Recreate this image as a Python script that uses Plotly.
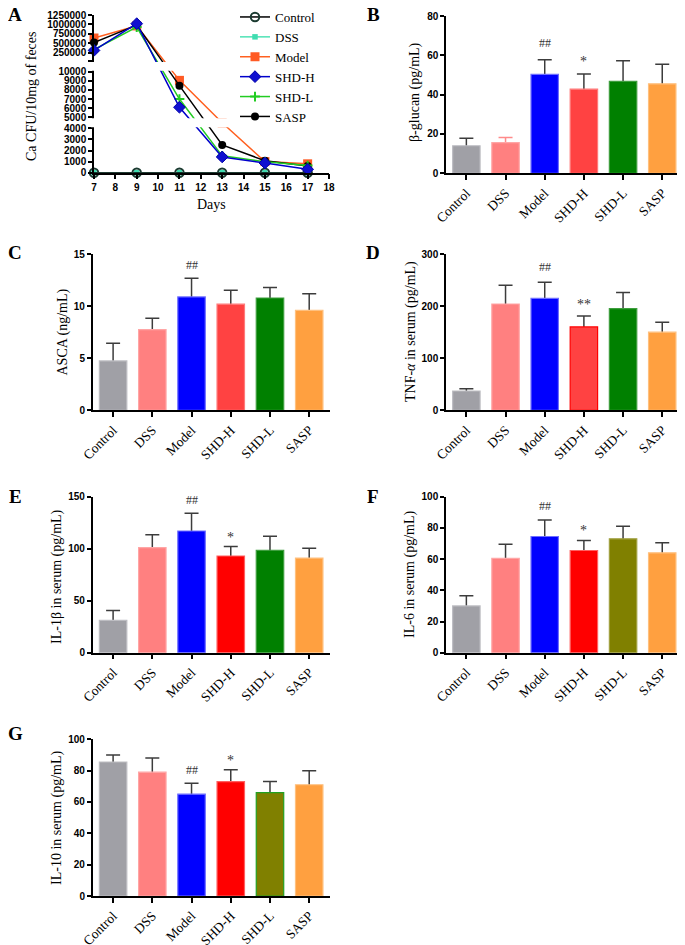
import numpy as np
import plotly.graph_objects as go

W, H = 685, 945          # browser window
OX, OY = 8, 8            # default page (body) margin in front of the figure
FW, FH = W - OX, H - OY  # figure size so that it fills the window exactly

# ---------------- Panel A data (Ca CFU / 10 mg feces) ----------------
days = [7, 9, 11, 13, 15, 17]
ctrl_cfu = [0, 0, 0, 0, 0, 0]
dss_cfu = [0, 0, 0, 0, 0, 0]
model_cfu = [640000, 960000, 9050, 4500, 1000, 800]
shdh_cfu = [310000, 1020000, 6100, 1420, 870, 310]
shdl_cfu = [330000, 930000, 7000, 1520, 980, 640]
sasp_cfu = [520000, 980000, 8470, 2500, 1080, 600]

# broken (segmented) axis: value breakpoints -> axis position units
brk_vals = [0, 4000, 5000, 10000, 30000, 1250000]
brk_pos = [0, 44.4, 55.4, 101.0, 111.7, 157.7]
seg_gaps = [(4000, 5000), (10000, 30000)]
a_ticks = [0, 1000, 2000, 3000, 4000, 5000, 6000, 7000, 8000, 9000, 10000,
           30000, 250000, 500000, 750000, 1000000, 1250000]
a_ticktext = [str(v) for v in a_ticks]
a_ticktext[a_ticks.index(30000)] = ""


def seg_scale(v):
    return np.interp(np.asarray(v, dtype=float), brk_vals, brk_pos)


# ---------------- Bar panel data ----------------
groups = ["Control", "DSS", "Model", "SHD-H", "SHD-L", "SASP"]

beta_glucan = [14, 15.6, 50.3, 42.8, 46.8, 45.5]
beta_err = [3.8, 2.6, 7.5, 7.7, 10.5, 10.0]
beta_marks = ["", "", "##", "*", "", ""]

asca = [4.75, 7.75, 10.9, 10.2, 10.8, 9.6]
asca_err = [1.7, 1.1, 1.8, 1.35, 1.0, 1.6]
asca_marks = ["", "", "##", "", "", ""]

tnf = [37, 204, 215, 160, 195, 150]
tnf_err = [4.5, 36, 31, 21, 31, 19]
tnf_marks = ["", "", "##", "**", "", ""]

il1b = [31, 101, 117, 93, 98.5, 91]
il1b_err = [9.5, 12.5, 17, 9, 13.5, 9.5]
il1b_marks = ["", "", "##", "*", "", ""]

il6 = [30, 60.5, 74.5, 65.5, 73, 64]
il6_err = [6.5, 9, 10.5, 6.5, 8, 6.5]
il6_marks = ["", "", "##", "*", "", ""]

il10 = [85.5, 79, 65, 73, 66, 71]
il10_err = [4.5, 9, 7, 7.5, 7, 9]
il10_marks = ["", "", "##", "*", "", ""]

# ---------------- styles ----------------
SERIF = "Liberation Serif, Times New Roman, serif"
SANS = "Liberation Sans, Arial, sans-serif"
tick_num_font = dict(family=SANS, size=10, color="black", weight="bold")
cat_font = dict(family=SERIF, size=13.5, color="black")

fill_1 = ["#A0A0A6", "#FF8080", "#0000FF", "#FF4242", "#008000", "#FFA040"]
edge_1 = ["#BDBDC2", "#FFA6A6", "#6E6EFF", "#FF7A7A", "#3E9E3E", "#FFC07E"]
fill_2 = ["#A0A0A6", "#FF8080", "#0000FF", "#FF0000", "#008000", "#FFA040"]
edge_2 = ["#BDBDC2", "#FFA6A6", "#6E6EFF", "#FF6060", "#3E9E3E", "#FFC07E"]
fill_3 = ["#A0A0A6", "#FF8080", "#0000FF", "#FF0000", "#808000", "#FFA040"]
edge_3 = ["#BDBDC2", "#FFA6A6", "#6E6EFF", "#FF6060", "#A0A040", "#FFC07E"]
edge_D = ["#BDBDC2", "#FFA6A6", "#6E6EFF", "#FF0000", "#3E9E3E", "#FFC07E"]
edge_G = ["#BDBDC2", "#FFA6A6", "#6E6EFF", "#FF6060", "#22A022", "#FFC07E"]

ERR = "#3C3C3C"


def px_x(a):
    return (a - OX) / FW


def px_y(b):
    return 1 - (b - OY) / FH


def pxx(a, b):
    return [px_x(a), px_x(b)]


def pxy(top, bottom):
    return [px_y(bottom), px_y(top)]


def paper_text(text, x, y, size, angle=0, **kw):
    return dict(text=text, x=px_x(x), y=px_y(y), xref="paper", yref="paper",
                xanchor="center", yanchor="middle", showarrow=False, textangle=angle,
                font=dict(family=SERIF, size=size, color="black"), **kw)


fig = go.Figure()
layout = {}
annotations = []
shapes = []

# ---------------- Panel A ----------------
line_series = [
    ("DSS", dss_cfu, dict(color="#4FE3B5", width=1.5),
     dict(symbol="square", size=5.5, color="#3FDDB0"), 2),
    ("Control", ctrl_cfu, dict(color="black", width=1.5),
     dict(symbol="circle-open", size=8.5, color="#1A3A30", line=dict(width=2, color="#1A3A30")), 1),
    ("Model", model_cfu, dict(color="#FF6020", width=1.5),
     dict(symbol="square", size=9, color="#FF5A24"), 3),
    ("SASP", sasp_cfu, dict(color="black", width=1.5),
     dict(symbol="circle", size=8, color="black"), 6),
    ("SHD-L", shdl_cfu, dict(color="#22CC22", width=1.5),
     dict(symbol="cross-thin", size=7, color="#22CC22", line=dict(width=2, color="#22CC22")), 5),
    ("SHD-H", shdh_cfu, dict(color="#0000CC", width=1.5),
     dict(symbol="diamond", size=9, color="#1010D0", line=dict(width=1, color="#0000AA")), 4),
]
for name, vals, ln, mk, rank in line_series:
    fig.add_trace(go.Scatter(
        x=days, y=seg_scale(vals), name=name, mode="lines+markers",
        line=ln, marker=mk, legendrank=rank, cliponaxis=False,
        xaxis="x", yaxis="y", showlegend=True,
    ))

A_xdom = pxx(94, 329)
A_ydom = pxy(14.7, 172.7)
A_yrange = [0, 158]
layout["xaxis"] = dict(domain=A_xdom, anchor="y", range=[7, 18], dtick=1, tick0=7,
                       showline=True, linecolor="black", linewidth=1.5, automargin=False,
                       ticks="outside", ticklen=5, tickwidth=1.5, tickcolor="black",
                       tickfont=tick_num_font, showgrid=False, zeroline=False)
layout["yaxis"] = dict(domain=A_ydom, anchor="x", range=A_yrange, automargin=False,
                       tickmode="array", tickvals=list(seg_scale(a_ticks)), ticktext=a_ticktext,
                       showline=True, linecolor="black", linewidth=1.5,
                       ticks="outside", ticklen=4, tickwidth=1.5, tickcolor="black",
                       tickfont=tick_num_font, showgrid=False, zeroline=False)


def a_paper_y(v):
    t = float(seg_scale(v))
    return A_ydom[0] + (t - A_yrange[0]) / (A_yrange[1] - A_yrange[0]) * (A_ydom[1] - A_ydom[0])


for lo, hi in seg_gaps:
    shapes.append(dict(type="rect", xref="paper", yref="paper",
                       x0=px_x(94 - 3), x1=px_x(331),
                       y0=a_paper_y(lo) + 1.0 / FH, y1=a_paper_y(hi) - 1.0 / FH,
                       fillcolor="white", line=dict(width=0), layer="above"))

annotations.append(paper_text("Days", 211, 204, 14))
annotations.append(paper_text("Ca CFU/10mg of feces", 32, 97, 14, angle=-90))

# ---------------- Bar panels ----------------
panels = [
    dict(vals=beta_glucan, errs=beta_err, marks=beta_marks, fill=fill_1, edge=edge_1,
         ymax=80, dtick=20, title="β-glucan (pg/mL)", xp=(446, 683), yp=(16, 173.3),
         tpos=(415, 92), mshift=17,
         errc=[ERR, "#FF8A8A", ERR, ERR, ERR, ERR]),
    dict(vals=asca, errs=asca_err, marks=asca_marks, fill=fill_1, edge=edge_1,
         ymax=15, dtick=5, title="ASCA (ng/mL)", xp=(92.7, 330), yp=(254.3, 410.3),
         tpos=(62.5, 332), mshift=13, errc=[ERR] * 6),
    dict(vals=tnf, errs=tnf_err, marks=tnf_marks, fill=fill_1, edge=edge_D,
         ymax=300, dtick=100, title="TNF-<i>α</i> in serum (pg/mL)", xp=(446, 683),
         yp=(254, 410.3), tpos=(411, 332), mshift=15, errc=[ERR] * 6),
    dict(vals=il1b, errs=il1b_err, marks=il1b_marks, fill=fill_2, edge=edge_2,
         ymax=150, dtick=50, title="IL-1β in serum (pg/mL)", xp=(92.7, 330),
         yp=(496.7, 652.7), tpos=(57, 577), mshift=13, errc=[ERR] * 6),
    dict(vals=il6, errs=il6_err, marks=il6_marks, fill=fill_3, edge=edge_3,
         ymax=100, dtick=20, title="IL-6 in serum (pg/mL)", xp=(446, 683),
         yp=(496.7, 652.7), tpos=(410, 575), mshift=14, errc=[ERR] * 6),
    dict(vals=il10, errs=il10_err, marks=il10_marks, fill=fill_3, edge=edge_G,
         ymax=100, dtick=20, title="IL-10 in serum (pg/mL)", xp=(92.7, 330),
         yp=(739.3, 896), tpos=(57, 818), mshift=13, errc=[ERR] * 6),
]

for i, p in enumerate(panels):
    k = i + 2
    xa, ya = f"x{k}", f"y{k}"
    # error bars (symmetric, lower half hidden beneath the bar drawn afterwards)
    for j, g in enumerate(groups):
        fig.add_trace(go.Bar(
            x=[g], y=[p["vals"][j]], width=0.7, xaxis=xa, yaxis=ya, showlegend=False,
            marker=dict(color="rgba(0,0,0,0)", line=dict(width=0)),
            error_y=dict(type="data", array=[p["errs"][j]], symmetric=True,
                         color=p["errc"][j], thickness=1.5, width=7),
        ))
    fig.add_trace(go.Bar(
        x=groups, y=p["vals"], width=0.7, xaxis=xa, yaxis=ya, showlegend=False,
        marker=dict(color=p["fill"], line=dict(width=1.2, color=p["edge"])),
    ))
    layout[f"xaxis{k}"] = dict(domain=pxx(*p["xp"]), anchor=ya, type="category",
                               categoryorder="array", categoryarray=groups, automargin=False,
                               range=[-0.52, 5.53], showline=True, linecolor="black",
                               linewidth=1.5, ticks="outside", ticklen=5, tickwidth=1.5,
                               tickcolor="black", tickangle=-45, tickfont=cat_font,
                               showgrid=False, zeroline=False)
    layout[f"yaxis{k}"] = dict(domain=pxy(*p["yp"]), anchor=xa, range=[0, p["ymax"]],
                               dtick=p["dtick"], showline=True, linecolor="black",
                               linewidth=1.5, ticks="outside", ticklen=4, tickwidth=1.5,
                               tickcolor="black", tickfont=tick_num_font, automargin=False,
                               showgrid=False, zeroline=False)
    annotations.append(paper_text(p["title"], p["tpos"][0], p["tpos"][1], 14, angle=-90))
    for j, m in enumerate(p["marks"]):
        if m:
            annotations.append(dict(
                text=m, x=groups[j], y=p["vals"][j] + p["errs"][j], xref=xa, yref=ya,
                showarrow=False, xanchor="center", yanchor="middle",
                yshift=p["mshift"] - (4 if m.startswith("*") else 0),
                font=dict(family=SERIF, size=14 if m.startswith("*") else 12, color="#333")))

# ---------------- panel letters ----------------
letters = [("A", 15, 14.5), ("B", 373, 14.5), ("C", 15, 252.5), ("D", 372.5, 252.5),
           ("E", 15, 496.5), ("F", 373, 496.5), ("G", 15, 733)]
for t, x, y in letters:
    annotations.append(paper_text(f"<b>{t}</b>", x, y, 19))

layout.update(dict(
    width=FW, height=FH, margin=dict(l=0, r=0, t=0, b=0, autoexpand=False),
    paper_bgcolor="white", plot_bgcolor="white", barmode="overlay",
    showlegend=True,
    legend=dict(x=px_x(235), y=1 + 6 / FH, xanchor="left", yanchor="top",
                font=dict(family=SERIF, size=13, color="black"),
                bgcolor="rgba(0,0,0,0)", tracegroupgap=0, itemwidth=30),
    annotations=annotations, shapes=shapes,
))
fig.update_layout(**layout)
fig.write_html("out.html")
